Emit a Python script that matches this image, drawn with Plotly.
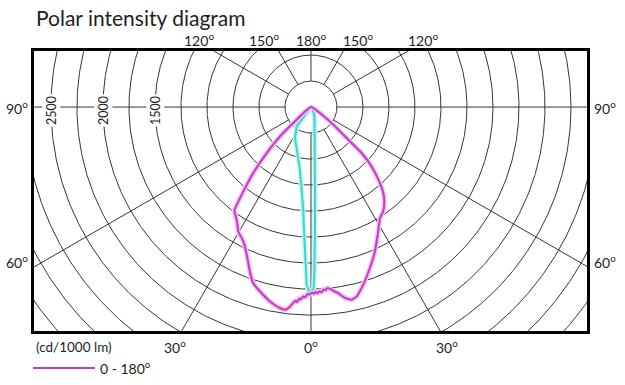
import numpy as np
import plotly.graph_objects as go

# ---------------- data (gamma angle in degrees, negative = opposite half-plane; intensity in cd/1000 lm)
C0_180_ANGLE = [-52, -48.4, -46.5, -43.9, -41.2, -38.7, -36.5, -33.0, -30.3, -26.7, -23.5, -20.4,
                -18.2, -15.5, -11.9, -8.8, -7.3, -6.0, -5.2, -4.6, -4.1, -3.5, -3.0, -2.3, -1.7,
                -1.0, -0.4, 0.3, 0.9, 1.4, 2.1, 2.6, 3.3, 3.9, 4.5, 5.0, 5.8, 6.5, 7.4, 8.3, 10.1,
                11.9, 13.6, 16.4, 20.1, 23.9, 28.4, 31.9, 34.5, 37.4, 40.1, 42.2, 45.6, 47.8, 48.8,
                52.3, 55]
C0_180_INT = [0, 184, 411, 614, 843, 1040, 1237, 1307, 1385, 1446, 1548, 1686,
              1780, 1838, 1910, 1955, 1964, 1930, 1890, 1868, 1880, 1845, 1852, 1822, 1830,
              1795, 1804, 1782, 1795, 1778, 1790, 1772, 1784, 1758, 1768, 1750, 1754, 1767, 1790,
              1807, 1864, 1893, 1872, 1780, 1648, 1518, 1359, 1256, 1223, 1161, 1080, 987, 816,
              658, 477, 251, 0]

C90_270_ANGLE = [-40, -36.4, -27.5, -20, -14.4, -10, -6.4, -4.3, -3.2, -2.4, -1.9, -1.4, -0.6,
                 0.8, 1.2, 1.6, 2.0, 2.5, 3.5, 5.3, 9, 20, 45, 90]
C90_270_INT = [0, 232, 333, 406, 490, 612, 800, 990, 1190, 1373, 1545, 1709, 1775,
               1756, 1584, 1373, 1120, 895, 644, 413, 238, 99, 20, 0]

RING_VALUES = list(range(250, 3751, 250))
SPOKE_ANGLES = [-150, -120, -90, -60, -30, 0, 30, 60, 90, 120, 150, 180]
RADIAL_LABELS = [2500, 2000, 1500]
TOP_LABEL_ANGLES = [-120, -150, 180, 150, 120]
BOTTOM_LABEL_ANGLES = [-30, 0, 30]
SIDE_LABEL_ANGLES = [-90, -60, 90, 60]

X_RANGE = [-2663, 2654]
Y_RANGE = [-2153, 539]

FONT = "Lato, 'Open Sans', sans-serif"
TXT = "#1e1e1e"


def to_xy(angle, intensity):
    a = np.radians(np.asarray(angle, dtype=float))
    r = np.asarray(intensity, dtype=float)
    return r * np.sin(a), -r * np.cos(a)


# grid rings
gx, gy = [], []
t = np.linspace(-180, 180, 721)
for rv in RING_VALUES:
    x, y = to_xy(t, np.full_like(t, rv))
    gx += list(x) + [None]
    gy += list(y) + [None]
# spokes
for a in SPOKE_ANGLES:
    x, y = to_xy([a, a], [RING_VALUES[0], 5000])
    gx += list(x) + [None]
    gy += list(y) + [None]

fig = go.Figure()
fig.add_trace(go.Scatter(x=gx, y=gy, mode="lines", line=dict(color="#363636", width=1),
                         hoverinfo="skip", showlegend=False))

cx, cy = to_xy(C90_270_ANGLE, C90_270_INT)
fig.add_trace(go.Scatter(x=cx, y=cy, mode="lines", line=dict(color="#c4f4f1", width=5),
                         hoverinfo="skip", showlegend=False))
fig.add_trace(go.Scatter(x=cx, y=cy, mode="lines", line=dict(color="#3fd5d0", width=2),
                         name="90 - 270°", showlegend=False))

mx, my = to_xy(C0_180_ANGLE, C0_180_INT)
fig.add_trace(go.Scatter(x=mx, y=my, mode="lines",
                         line=dict(color="#f3c0f1", width=5, shape="spline", smoothing=0.4),
                         hoverinfo="skip", showlegend=False))
fig.add_trace(go.Scatter(x=mx, y=my, mode="lines",
                         line=dict(color="#c23cc4", width=2, shape="spline", smoothing=0.4),
                         name="0 - 180°", showlegend=False))

ann = []
deg = "<sup>o</sup>"
# top angle labels
for a in TOP_LABEL_ANGLES:
    sgn = np.sign(a) if abs(a) != 180 else 0
    xc = Y_RANGE[1] * np.tan(np.radians(180 - abs(a))) * sgn
    ann.append(dict(x=xc, y=Y_RANGE[1], xref="x", yref="y", text=f"{abs(a)}{deg}",
                    showarrow=False, xanchor="center", yanchor="middle",
                    xshift=15 * sgn, yshift=12, font=dict(size=14, color=TXT, family=FONT)))
# bottom angle labels
for a in BOTTOM_LABEL_ANGLES:
    sgn = np.sign(a)
    xc = -Y_RANGE[0] * np.tan(np.radians(abs(a))) * sgn
    ann.append(dict(x=xc, y=Y_RANGE[0], xref="x", yref="y", text=f"{abs(a)}{deg}",
                    showarrow=False, xanchor="center", yanchor="middle",
                    xshift=7 * sgn, yshift=-15, font=dict(size=14, color=TXT, family=FONT)))
# side angle labels
for a in SIDE_LABEL_ANGLES:
    left = a < 0
    xe = X_RANGE[0] if left else X_RANGE[1]
    ang = abs(a)
    ye = -abs(xe) / np.tan(np.radians(ang)) if ang != 90 else 0
    ann.append(dict(x=xe, y=ye, xref="x", yref="y", text=f"{ang}{deg}", showarrow=False,
                    xanchor="right" if left else "left", yanchor="middle",
                    xshift=-4 if left else 5, yshift=0 if ang == 90 else 5,
                    font=dict(size=14, color=TXT, family=FONT)))
# radial scale labels
for v in RADIAL_LABELS:
    ann.append(dict(x=-v, y=0, xref="x", yref="y", text=str(v), textangle=-90, showarrow=False,
                    xanchor="center", yanchor="middle", yshift=-3, bgcolor="white", borderpad=1,
                    font=dict(size=12.5, color=TXT, family=FONT)))
# title
ann.append(dict(x=0, y=1.121, xref="paper", yref="paper", text="Polar intensity diagram",
                showarrow=False, xanchor="left", yanchor="middle", xshift=0,
                font=dict(size=21, color=TXT, family=FONT)))
# units
ann.append(dict(x=0, y=0, xref="paper", yref="paper", text="(cd/1000 lm)", showarrow=False,
                xanchor="left", yanchor="middle", xshift=0, yshift=-16,
                font=dict(size=13.5, color=TXT, family=FONT)))
# legend
ann.append(dict(x=0.1157, y=-0.132, xref="paper", yref="paper", text=f"0 - 180{deg}",
                showarrow=False, xanchor="left", yanchor="middle",
                font=dict(size=14, color=TXT, family=FONT)))

shapes = [dict(type="line", xref="paper", yref="paper", x0=-0.002, x1=0.110, y0=-0.132,
               y1=-0.132, line=dict(color="#c23cc4", width=2))]

axis_common = dict(showgrid=False, zeroline=False, showticklabels=False, ticks="",
                   showline=True, mirror=True, linecolor="black", linewidth=3, fixedrange=True)
fig.update_layout(
    width=625, height=385,
    margin=dict(l=34, r=38, t=51, b=54),
    paper_bgcolor="white", plot_bgcolor="white",
    xaxis=dict(range=X_RANGE, **axis_common),
    yaxis=dict(range=Y_RANGE, **axis_common),
    annotations=ann, shapes=shapes, showlegend=False,
)

fig.write_html("out.html", config={"displayModeBar": False},
               post_script="document.body.style.margin='0';")
